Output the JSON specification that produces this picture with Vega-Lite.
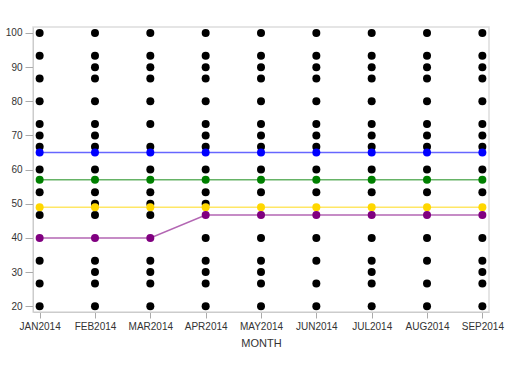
{
  "$schema": "https://vega.github.io/schema/vega-lite/v6.json",
  "autosize": "none",
  "width": 456,
  "height": 285,
  "padding": {"left": 33, "top": 27, "right": 23, "bottom": 72},
  "config": {
    "font": "Liberation Sans",
    "view": {"stroke": "#dddddd", "strokeWidth": 1.5},
    "axis": {"labelFont": "Liberation Sans", "titleFont": "Liberation Sans", "labelColor": "#333333", "titleColor": "#333333", "domainColor": "#cccccc", "tickColor": "#aaaaaa", "grid": false}
  },
  "datasets": {
    "dots": [
      {"month": "JAN2014", "value": 100}, {"month": "JAN2014", "value": 93.33}, {"month": "JAN2014", "value": 86.67}, {"month": "JAN2014", "value": 80}, {"month": "JAN2014", "value": 73.33}, {"month": "JAN2014", "value": 70}, {"month": "JAN2014", "value": 66.67}, {"month": "JAN2014", "value": 60}, {"month": "JAN2014", "value": 53.33}, {"month": "JAN2014", "value": 46.67}, {"month": "JAN2014", "value": 33.33}, {"month": "JAN2014", "value": 26.67}, {"month": "JAN2014", "value": 20},
      {"month": "FEB2014", "value": 100}, {"month": "FEB2014", "value": 93.33}, {"month": "FEB2014", "value": 90}, {"month": "FEB2014", "value": 86.67}, {"month": "FEB2014", "value": 80}, {"month": "FEB2014", "value": 73.33}, {"month": "FEB2014", "value": 70}, {"month": "FEB2014", "value": 66.67}, {"month": "FEB2014", "value": 60}, {"month": "FEB2014", "value": 53.33}, {"month": "FEB2014", "value": 50}, {"month": "FEB2014", "value": 46.67}, {"month": "FEB2014", "value": 33.33}, {"month": "FEB2014", "value": 30}, {"month": "FEB2014", "value": 26.67}, {"month": "FEB2014", "value": 20},
      {"month": "MAR2014", "value": 100}, {"month": "MAR2014", "value": 93.33}, {"month": "MAR2014", "value": 90}, {"month": "MAR2014", "value": 86.67}, {"month": "MAR2014", "value": 80}, {"month": "MAR2014", "value": 73.33}, {"month": "MAR2014", "value": 66.67}, {"month": "MAR2014", "value": 60}, {"month": "MAR2014", "value": 53.33}, {"month": "MAR2014", "value": 50}, {"month": "MAR2014", "value": 46.67}, {"month": "MAR2014", "value": 33.33}, {"month": "MAR2014", "value": 30}, {"month": "MAR2014", "value": 26.67}, {"month": "MAR2014", "value": 20},
      {"month": "APR2014", "value": 100}, {"month": "APR2014", "value": 93.33}, {"month": "APR2014", "value": 90}, {"month": "APR2014", "value": 86.67}, {"month": "APR2014", "value": 80}, {"month": "APR2014", "value": 73.33}, {"month": "APR2014", "value": 70}, {"month": "APR2014", "value": 66.67}, {"month": "APR2014", "value": 60}, {"month": "APR2014", "value": 53.33}, {"month": "APR2014", "value": 50}, {"month": "APR2014", "value": 40}, {"month": "APR2014", "value": 33.33}, {"month": "APR2014", "value": 30}, {"month": "APR2014", "value": 26.67}, {"month": "APR2014", "value": 20},
      {"month": "MAY2014", "value": 100}, {"month": "MAY2014", "value": 93.33}, {"month": "MAY2014", "value": 90}, {"month": "MAY2014", "value": 86.67}, {"month": "MAY2014", "value": 80}, {"month": "MAY2014", "value": 73.33}, {"month": "MAY2014", "value": 70}, {"month": "MAY2014", "value": 66.67}, {"month": "MAY2014", "value": 60}, {"month": "MAY2014", "value": 53.33}, {"month": "MAY2014", "value": 40}, {"month": "MAY2014", "value": 33.33}, {"month": "MAY2014", "value": 30}, {"month": "MAY2014", "value": 26.67}, {"month": "MAY2014", "value": 20},
      {"month": "JUN2014", "value": 100}, {"month": "JUN2014", "value": 93.33}, {"month": "JUN2014", "value": 90}, {"month": "JUN2014", "value": 86.67}, {"month": "JUN2014", "value": 80}, {"month": "JUN2014", "value": 73.33}, {"month": "JUN2014", "value": 70}, {"month": "JUN2014", "value": 66.67}, {"month": "JUN2014", "value": 60}, {"month": "JUN2014", "value": 53.33}, {"month": "JUN2014", "value": 40}, {"month": "JUN2014", "value": 33.33}, {"month": "JUN2014", "value": 26.67}, {"month": "JUN2014", "value": 20},
      {"month": "JUL2014", "value": 100}, {"month": "JUL2014", "value": 93.33}, {"month": "JUL2014", "value": 90}, {"month": "JUL2014", "value": 86.67}, {"month": "JUL2014", "value": 80}, {"month": "JUL2014", "value": 73.33}, {"month": "JUL2014", "value": 70}, {"month": "JUL2014", "value": 66.67}, {"month": "JUL2014", "value": 60}, {"month": "JUL2014", "value": 53.33}, {"month": "JUL2014", "value": 40}, {"month": "JUL2014", "value": 33.33}, {"month": "JUL2014", "value": 30}, {"month": "JUL2014", "value": 26.67}, {"month": "JUL2014", "value": 20},
      {"month": "AUG2014", "value": 100}, {"month": "AUG2014", "value": 93.33}, {"month": "AUG2014", "value": 90}, {"month": "AUG2014", "value": 86.67}, {"month": "AUG2014", "value": 80}, {"month": "AUG2014", "value": 73.33}, {"month": "AUG2014", "value": 70}, {"month": "AUG2014", "value": 66.67}, {"month": "AUG2014", "value": 60}, {"month": "AUG2014", "value": 53.33}, {"month": "AUG2014", "value": 40}, {"month": "AUG2014", "value": 33.33}, {"month": "AUG2014", "value": 26.67}, {"month": "AUG2014", "value": 20},
      {"month": "SEP2014", "value": 100}, {"month": "SEP2014", "value": 93.33}, {"month": "SEP2014", "value": 90}, {"month": "SEP2014", "value": 86.67}, {"month": "SEP2014", "value": 80}, {"month": "SEP2014", "value": 73.33}, {"month": "SEP2014", "value": 70}, {"month": "SEP2014", "value": 66.67}, {"month": "SEP2014", "value": 60}, {"month": "SEP2014", "value": 53.33}, {"month": "SEP2014", "value": 40}, {"month": "SEP2014", "value": 33.33}, {"month": "SEP2014", "value": 30}, {"month": "SEP2014", "value": 26.67}, {"month": "SEP2014", "value": 20}
    ],
    "series": [
      {"month": "JAN2014", "series": "blue", "value": 65}, {"month": "FEB2014", "series": "blue", "value": 65}, {"month": "MAR2014", "series": "blue", "value": 65}, {"month": "APR2014", "series": "blue", "value": 65}, {"month": "MAY2014", "series": "blue", "value": 65}, {"month": "JUN2014", "series": "blue", "value": 65}, {"month": "JUL2014", "series": "blue", "value": 65}, {"month": "AUG2014", "series": "blue", "value": 65}, {"month": "SEP2014", "series": "blue", "value": 65},
      {"month": "JAN2014", "series": "green", "value": 57}, {"month": "FEB2014", "series": "green", "value": 57}, {"month": "MAR2014", "series": "green", "value": 57}, {"month": "APR2014", "series": "green", "value": 57}, {"month": "MAY2014", "series": "green", "value": 57}, {"month": "JUN2014", "series": "green", "value": 57}, {"month": "JUL2014", "series": "green", "value": 57}, {"month": "AUG2014", "series": "green", "value": 57}, {"month": "SEP2014", "series": "green", "value": 57},
      {"month": "JAN2014", "series": "yellow", "value": 49}, {"month": "FEB2014", "series": "yellow", "value": 49}, {"month": "MAR2014", "series": "yellow", "value": 49}, {"month": "APR2014", "series": "yellow", "value": 49}, {"month": "MAY2014", "series": "yellow", "value": 49}, {"month": "JUN2014", "series": "yellow", "value": 49}, {"month": "JUL2014", "series": "yellow", "value": 49}, {"month": "AUG2014", "series": "yellow", "value": 49}, {"month": "SEP2014", "series": "yellow", "value": 49},
      {"month": "JAN2014", "series": "purple", "value": 40}, {"month": "FEB2014", "series": "purple", "value": 40}, {"month": "MAR2014", "series": "purple", "value": 40}, {"month": "APR2014", "series": "purple", "value": 46.67}, {"month": "MAY2014", "series": "purple", "value": 46.67}, {"month": "JUN2014", "series": "purple", "value": 46.67}, {"month": "JUL2014", "series": "purple", "value": 46.67}, {"month": "AUG2014", "series": "purple", "value": 46.67}, {"month": "SEP2014", "series": "purple", "value": 46.67}
    ]
  },
  "encoding": {
    "x": {
      "field": "month", "type": "ordinal",
      "sort": ["JAN2014", "FEB2014", "MAR2014", "APR2014", "MAY2014", "JUN2014", "JUL2014", "AUG2014", "SEP2014"],
      "scale": {"type": "point", "padding": 0.12},
      "axis": {"title": "MONTH", "labelAngle": 0, "labelFontSize": 10, "titleFontSize": 11, "titleFontWeight": "normal", "tickSize": 6, "labelPadding": 3, "titlePadding": 6}
    },
    "y": {
      "field": "value", "type": "quantitative",
      "scale": {"domain": [18.3, 101.75], "nice": false, "zero": false},
      "axis": {"title": null, "values": [20, 30, 40, 50, 60, 70, 80, 90, 100], "labelFontSize": 10, "tickSize": 8, "labelPadding": 3}
    }
  },
  "layer": [
    {
      "data": {"name": "dots"},
      "mark": {"type": "point", "filled": true, "shape": "circle", "size": 64, "color": "black", "opacity": 1}
    },
    {
      "data": {"name": "series"},
      "mark": {"type": "line"},
      "encoding": {
        "color": {"field": "series", "type": "nominal", "scale": {"domain": ["blue", "green", "yellow", "purple"], "range": ["#0000ff", "#008000", "#ffd700", "#800080"]}, "legend": null},
        "strokeWidth": {"field": "series", "type": "nominal", "scale": {"domain": ["blue", "green", "yellow", "purple"], "range": [1.5, 1.5, 3, 1.5]}, "legend": null},
        "opacity": {"field": "series", "type": "nominal", "scale": {"domain": ["blue", "green", "yellow", "purple"], "range": [0.6, 0.6, 0.35, 0.6]}, "legend": null}
      }
    },
    {
      "data": {"name": "series"},
      "mark": {"type": "point", "filled": true, "shape": "circle", "size": 64, "opacity": 1},
      "encoding": {
        "color": {"field": "series", "type": "nominal", "scale": {"domain": ["blue", "green", "yellow", "purple"], "range": ["#0000ff", "#008000", "#ffd700", "#800080"]}, "legend": null}
      }
    }
  ]
}
